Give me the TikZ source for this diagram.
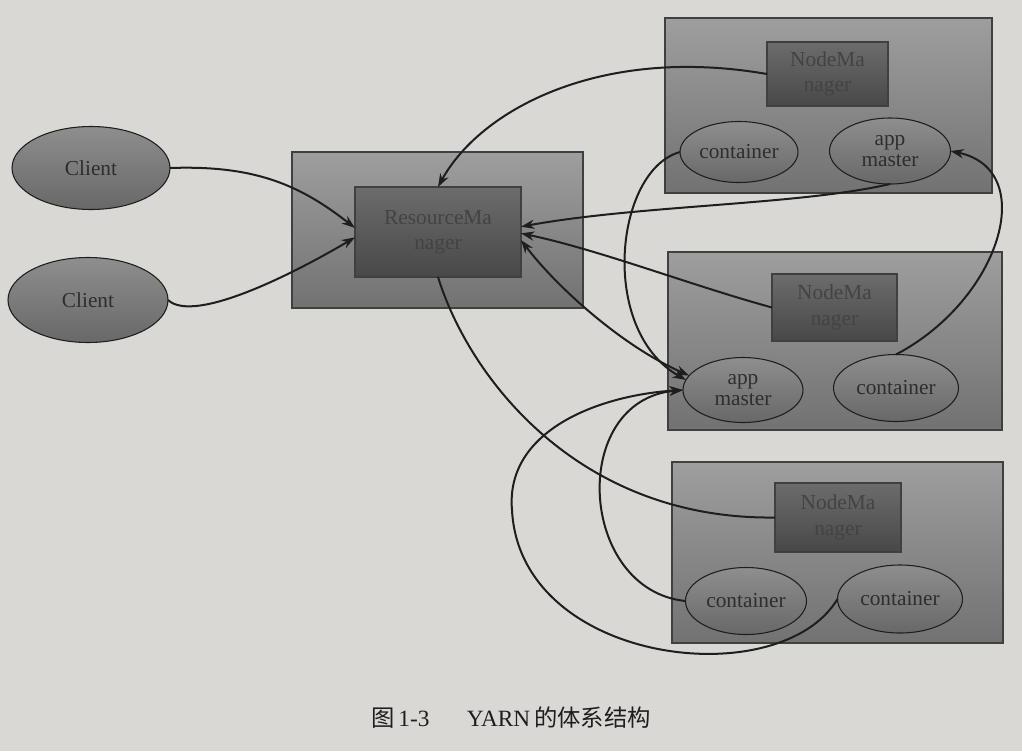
\documentclass[tikz,border=0pt]{standalone}
\usepackage{fontspec}
\setmainfont{Liberation Serif}
\newfontfamily\cjk{Noto Sans CJK SC}
\usetikzlibrary{arrows.meta,shapes.geometric}
\definecolor{paper}{HTML}{DAD8D4}
\definecolor{outertop}{HTML}{9E9E9E}
\definecolor{outerbot}{HTML}{727272}
\definecolor{innertop}{HTML}{6C6C6C}
\definecolor{innerbot}{HTML}{484848}
\definecolor{elltop}{HTML}{8E8E8E}
\definecolor{ellbot}{HTML}{686868}
\definecolor{inktext}{HTML}{2E2E2E}
\definecolor{ink}{HTML}{1E1E1E}
\tikzset{
  outerbox/.style={draw=ink!85, line width=0.8pt, top color=outertop, bottom color=outerbot,
    inner sep=0pt, outer sep=0pt},
  innerbox/.style={draw=ink!85, line width=0.8pt, top color=innertop, bottom color=innerbot,
    inner sep=0pt, outer sep=0pt, align=center, text=inktext!90,
    font=\fontsize{16}{19}\selectfont},
  ell/.style={ellipse, draw=ink, line width=0.8pt, top color=elltop, bottom color=ellbot,
    inner sep=0pt, outer sep=0pt, align=center, text=inktext,
    font=\fontsize{16}{16}\selectfont},
  conn/.style={draw=ink, line width=1.5pt, -{Stealth[length=10pt,width=7pt]}},
  conntwo/.style={draw=ink, line width=1.5pt, {Stealth[length=10pt,width=7pt]}-{Stealth[length=10pt,width=7pt]}},
  plainline/.style={draw=ink, line width=1.5pt},
}
\begin{document}
\begin{tikzpicture}[x=0.75pt,y=-0.75pt]
\fill[paper] (0,0) rectangle (1022,751);
\useasboundingbox (0,0) rectangle (1022,751);

% clients
\node[ell, minimum width=118.5pt, minimum height=62.25pt] (c1) at (91,168) {Client};
\node[ell, minimum width=120pt, minimum height=63.75pt] (c2) at (88,300) {Client};

% resource manager
\node[outerbox, minimum width=218.25pt, minimum height=117pt] (rmo) at (437.5,230) {};
\node[innerbox, minimum width=124.5pt, minimum height=67.5pt] (rmi) at (438,232) {ResourceMa\\nager};

% node manager 1
\node[outerbox, minimum width=245.25pt, minimum height=131.25pt] (nm1o) at (828.5,105.5) {};
\node[innerbox, minimum width=90.75pt, minimum height=48pt] (nm1i) at (827.5,74) {NodeMa\\nager};
\node[ell, minimum width=88.5pt, minimum height=45.75pt] (cont1) at (739,152) {container};
\node[ell, minimum width=90.75pt, minimum height=49.5pt] (app1) at (890,151) {app\\master};

% node manager 2
\node[outerbox, minimum width=250.5pt, minimum height=133.5pt] (nm2o) at (835,341) {};
\node[innerbox, minimum width=93.75pt, minimum height=50.25pt] (nm2i) at (834.5,307.5) {NodeMa\\nager};
\node[ell, minimum width=90pt, minimum height=48.75pt] (app2) at (743,390) {app\\master};
\node[ell, minimum width=93.75pt, minimum height=50.25pt] (cont2) at (896,388) {container};

% node manager 3
\node[outerbox, minimum width=248.25pt, minimum height=135.75pt] (nm3o) at (837.5,552.5) {};
\node[innerbox, minimum width=94.5pt, minimum height=51.75pt] (nm3i) at (838,517.5) {NodeMa\\nager};
\node[ell, minimum width=90.75pt, minimum height=50.25pt] (contL) at (746,601) {container};
\node[ell, minimum width=93.75pt, minimum height=51pt] (contR) at (900,599) {container};

% connectors
\draw[conn] (c1.east) .. controls (255,165) and (300,185) .. ([yshift=3pt]rmi.west);
\draw[conn] (c2.east) .. controls (195,325) and (300,270) .. ([yshift=-4pt]rmi.west);
\draw[conn] (nm1i.west) .. controls (600,45) and (480,110) .. (rmi.north);
\draw[conn] (app1.south) .. controls (800,205) and (640,205) .. ([yshift=4pt]rmi.east);
\draw[conn] (nm2i.west) .. controls (690,285) and (600,250) .. ([yshift=-1pt]rmi.east);
\draw[conntwo] ([yshift=-6pt]rmi.east) .. controls (555,285) and (620,345) .. (app2.165);
\draw[conn] (cont1.west) .. controls (615,170) and (598,330) .. (app2.170);
\draw[conn] (cont2.north) .. controls (1000,300) and (1040,170) .. (app1.east);
\draw[plainline] (rmi.south) .. controls (470,380) and (580,520) .. (nm3i.west);
\draw[conn] (contL.west) .. controls (578,590) and (568,400) .. (app2.west);
\coordinate (loopL) at (512,510);
\draw[conn] (contR.west) .. controls (780,695) and (520,665) .. (loopL)
  .. controls (505,430) and (600,395) .. (app2.west);

% caption
\node[text=ink, font=\fontsize{17.5}{19}\selectfont] (cap) at (511,718)
  {{\cjk 图}\,1-3\hspace{1.6em}YARN\,{\cjk 的体系结构}};
\end{tikzpicture}
\end{document}
